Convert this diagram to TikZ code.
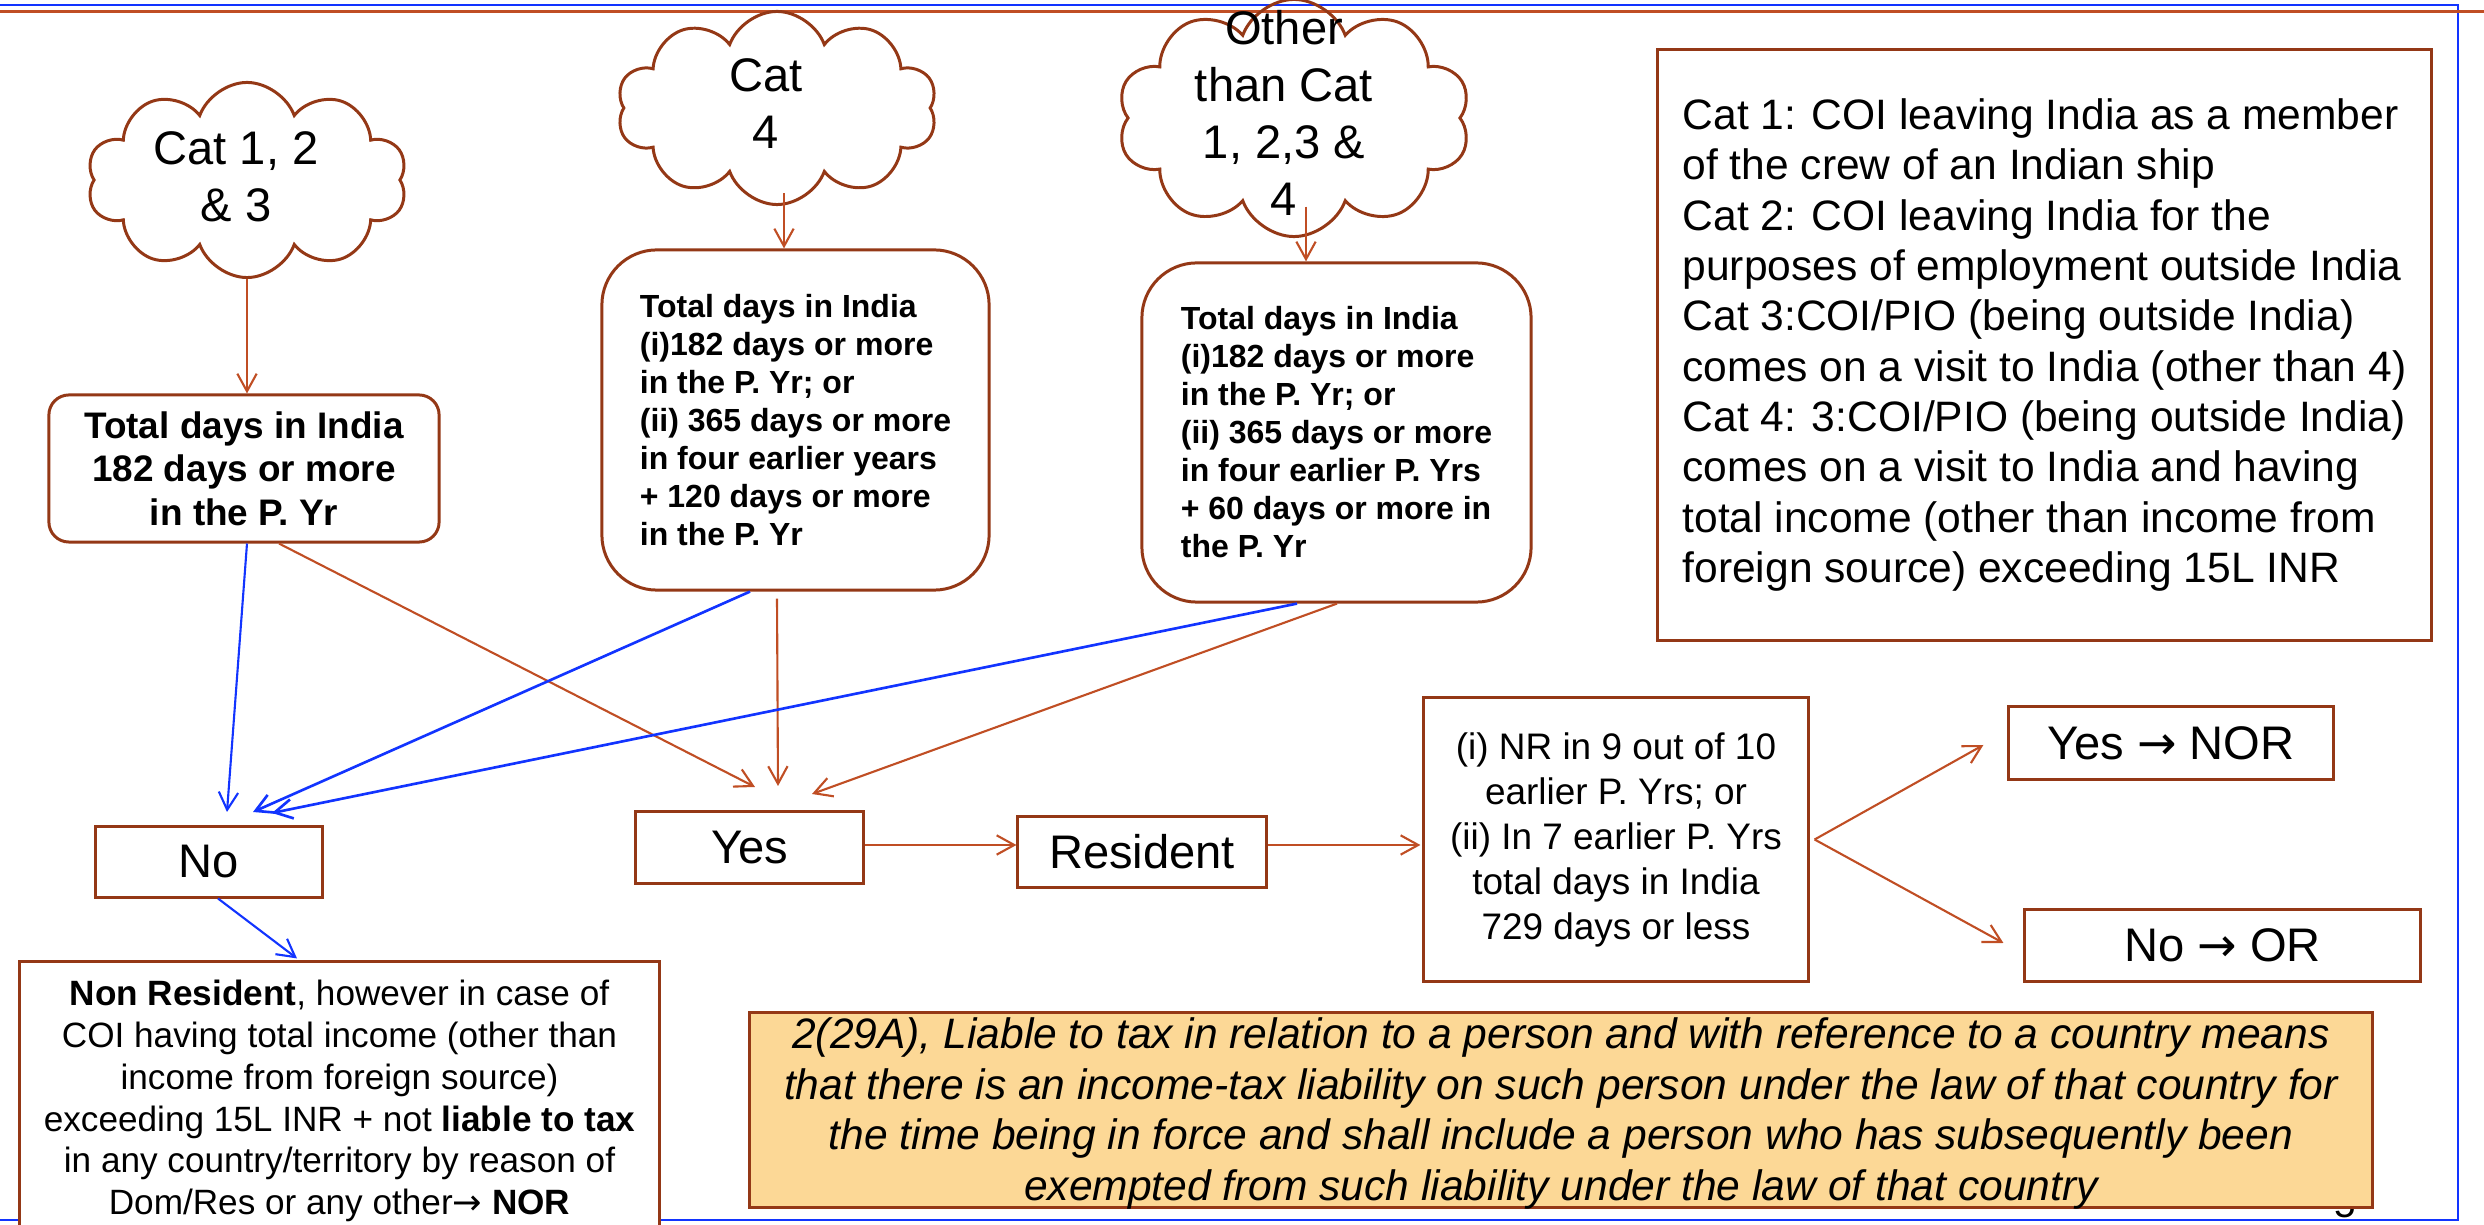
\documentclass[tikz,border=0pt]{standalone}
\usepackage{fontspec}
\setmainfont{Liberation Sans}
\newfontfamily\arrowfont{DejaVu Sans}
\usetikzlibrary{shapes.symbols,arrows.meta,calc}
\definecolor{boxbrown}{RGB}{148,56,22}
\definecolor{arrbrown}{RGB}{192,78,36}
\definecolor{lineblue}{RGB}{18,52,255}
\definecolor{notefill}{RGB}{252,216,150}
\newcommand\fsz[2]{\fontsize{#1}{#2}\selectfont}
\newcommand\rarr{{\arrowfont →}}
\begin{document}
\begin{tikzpicture}[x=0.01cm,y=-0.01cm,
  box/.style={draw=boxbrown,line width=0.85pt,fill=white,inner sep=0pt},
  cloudshape/.style={cloud,cloud puffs=10,cloud puff arc=140,cloud ignores aspect,draw=boxbrown,line width=0.85pt,inner sep=0pt},
  cloudtext/.style={align=center,inner sep=0pt,font=\fsz{13.4}{16.2}},
  brarrow/.style={draw=arrbrown,line width=0.6pt,-{Straight Barb[length=5pt,width=5.5pt]}},
  blarrow/.style={draw=lineblue,line width=0.6pt,-{Straight Barb[length=5pt,width=5.5pt]}},
  bigtext/.style={font=\fsz{13.4}{16}}
]
\useasboundingbox (0,0) rectangle (2484,1225);
\clip (0,0) rectangle (2484,1225);
% frame lines
\draw[lineblue,line width=0.5pt] (0,4.7) -- (2458,4.7) -- (2458,1220) -- (0,1220);
\draw[arrbrown,line width=0.8pt] (0,11.7) -- (2484,11.7);
% page number (mostly hidden)
\node[font=\fsz{11}{13},anchor=base,inner sep=0pt] (pg) at (2345,1217) {5};

% clouds
\node[cloudshape,minimum width=3.2cm,minimum height=1.95cm] (c1) at (247,180) {};
\node[cloudshape,minimum width=3.2cm,minimum height=1.93cm] (c2) at (777,108) {};
\node[cloudshape,minimum width=3.53cm,minimum height=2.37cm] (c3) at (1294,118) {};
\node[cloudtext] (t1) at (236,176.5) {Cat 1, 2\\\& 3};
\node[cloudtext] (t2) at (766,104) {Cat\\4};
\node[cloudtext] (t3) at (1284,113) {Other\\than Cat\\1, 2,3 \&\\4};

% condition boxes
\node[box,rounded corners=0.2cm,minimum width=3.9cm,minimum height=1.47cm,align=center,font=\bfseries\fsz{10.5}{12.4}] (b1) at (244,468.5)
  {Total days in India\\182 days or more\\in the P. Yr};
\node[box,rounded corners=0.55cm,minimum width=3.87cm,minimum height=3.4cm,align=left,font=\bfseries\fsz{9.1}{10.8}] (b2) at (795.5,420)
  {Total days in India\\(i)182 days or more\\in the P. Yr; or\\(ii) 365 days or more\\in four earlier years\\+ 120 days or more\\in the P. Yr};
\node[box,rounded corners=0.55cm,minimum width=3.89cm,minimum height=3.39cm,align=left,font=\bfseries\fsz{9.1}{10.8}] (b3) at (1336.5,432.5)
  {Total days in India\\(i)182 days or more\\in the P. Yr; or\\(ii) 365 days or more\\in four earlier P. Yrs\\+ 60 days or more in\\the P. Yr};

% info box
\node[box,minimum width=7.73cm,minimum height=5.9cm,align=left,font=\fsz{12.1}{14.3}] (info) at (2044.5,345)
  {Cat 1: COI leaving India as a member\\
   of the crew of an Indian ship\\
   Cat 2: COI leaving India for the\\
   purposes of employment outside India\\
   Cat 3:COI/PIO (being outside India)\\
   comes on a visit to India (other than 4)\\
   Cat 4: 3:COI/PIO (being outside India)\\
   comes on a visit to India and having\\
   total income (other than income from\\
   foreign source) exceeding 15L INR};

% bottom row
\node[box,minimum width=2.26cm,minimum height=0.7cm,bigtext] (no) at (209,862) {No};
\node[box,minimum width=2.27cm,minimum height=0.71cm,bigtext] (yes) at (749.5,847.5) {Yes};
\node[box,minimum width=2.48cm,minimum height=0.7cm,bigtext] (res) at (1142,852) {Resident};
\node[box,minimum width=3.84cm,minimum height=2.83cm,align=center,font=\fsz{10.5}{12.8}] (nr) at (1616,839.5)
  {(i) NR in 9 out of 10\\earlier P. Yrs; or\\(ii) In 7 earlier P. Yrs\\total days in India\\729 days or less};
\node[box,minimum width=3.24cm,minimum height=0.72cm,bigtext] (ynor) at (2171,743) {Yes \rarr{} NOR};
\node[box,minimum width=3.95cm,minimum height=0.71cm,bigtext] (nor) at (2222.5,945.5) {No \rarr{} OR};
\node[box,minimum width=6.39cm,minimum height=2.78cm,align=center,font=\fsz{10}{11.9}] (nonres) at (339.5,1101)
  {\textbf{Non Resident}, however in case of\\COI having total income (other than\\income from foreign source)\\exceeding 15L INR + not \textbf{liable to tax}\\in any country/territory by reason of\\Dom/Res or any other\rarr{} \textbf{NOR}};

% note
\node[box,fill=notefill,minimum width=16.22cm,minimum height=1.94cm] (note) at (1561,1110) {};
\node[align=center,inner sep=0pt,font=\itshape\fsz{12.1}{14.5}] (notetext) at (1561,1113.5)
  {2(29A), Liable to tax in relation to a person and with reference to a country means\\
   that there is an income-tax liability on such person under the law of that country for\\
   the time being in force and shall include a person who has subsequently been\\
   exempted from such liability under the law of that country};

% connectors from clouds
\coordinate (c2o) at ($(c2.south)+(7,-13)$);
\coordinate (c3o) at ($(c3.south)+(12,-31.5)$);
\draw[brarrow] (c1.south) -- (c1.south |- b1.north);
\draw[brarrow] (c2o) -- (c2o |- b2.north);
\draw[brarrow] (c3o) -- (c3o |- b3.north);

% arrow ends
\coordinate (noA) at (227,812);
\coordinate (noB) at (253,812);
\coordinate (noC) at (272,813);
\coordinate (yesA) at (755,787);
\coordinate (yesB) at (778,786);
\coordinate (yesC) at (812,794);

\draw[blarrow] ($(b1.south)+(3,0)$) -- (noA);
\draw[brarrow] ($(b1.south)+(35,0)$) -- (yesA);
\draw[blarrow,line width=0.75pt] ($(b2.south)+(-45.5,0)$) -- (noB);
\draw[brarrow] ($(b2.south)+(-18.5,7)$) -- (yesB);
\draw[blarrow,line width=0.75pt] ($(b3.south)+(-39.5,0)$) -- (noC);
\draw[brarrow] ($(b3.south)+(0.5,0)$) -- (yesC);

% flow
\coordinate (yesout) at ($(yes.east)+(0,-2.5)$);
\coordinate (resout) at ($(res.east)+(0,-7)$);
\draw[brarrow] (yesout) -- (yesout -| res.west);
\draw[brarrow] (resout) -- ($(resout -| nr.west)+(-2,0)$);
\coordinate (fork) at ($(nr.east)+(5,0)$);
\coordinate (norin) at ($(ynor.west)+(-24,2)$);
\coordinate (orin) at ($(nor.west)+(-20,-2.5)$);
\draw[brarrow] (fork) -- (norin);
\draw[brarrow] (fork) -- (orin);
\draw[blarrow] ($(no.south)+(9,0)$) -- ($(nonres.north)+(-42.5,-2)$);
\end{tikzpicture}
\end{document}
